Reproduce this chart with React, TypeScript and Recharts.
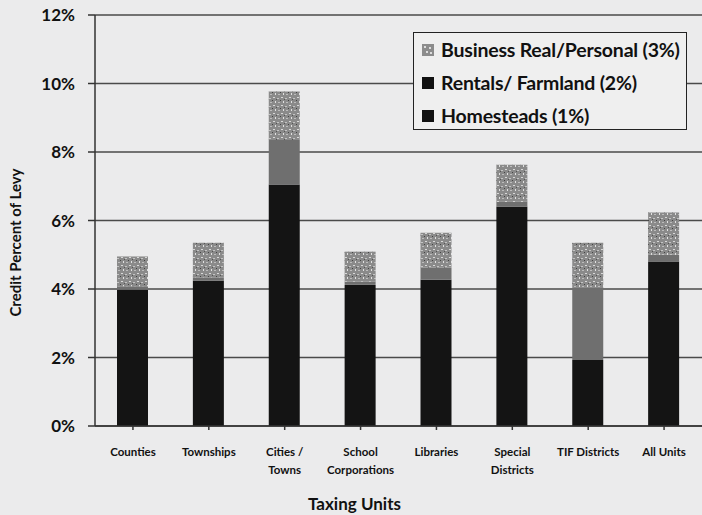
import React from 'react';
import { BarChart, Bar, XAxis, YAxis, CartesianGrid } from 'recharts';

const units = [
  'Counties',
  'Townships',
  'Cities /\nTowns',
  'School\nCorporations',
  'Libraries',
  'Special\nDistricts',
  'TIF Districts',
  'All Units',
];
const homesteads = [3.98, 4.24, 7.05, 4.12, 4.27, 6.4, 1.93, 4.8];
const rentals = [0.1, 0.1, 1.3, 0.1, 0.35, 0.15, 2.1, 0.2];
const business = [0.87, 1.01, 1.42, 0.87, 1.02, 1.08, 1.32, 1.23];
const yTicks = [0, 2, 4, 6, 8, 10, 12];

const data = units.map((unit, i) => ({
  unit,
  homesteads: homesteads[i],
  rentals: rentals[i],
  business: business[i],
}));

const FONT = 'Lato, "Open Sans", sans-serif';
const BG = '#ebebec';

const UnitTick = (props: any) => {
  const { x, y, payload } = props;
  const lines = String(payload.value).split('\n');
  return (
    <text x={x} y={y + 24} textAnchor="middle" fontFamily={FONT} fontWeight={700} fontSize={11.5} fill="#111">
      {lines.map((l, i) => (
        <tspan key={i} x={x} dy={i === 0 ? 0 : 18}>
          {l}
        </tspan>
      ))}
    </text>
  );
};

const legendItems = [
  { label: 'Business Real/Personal (3%)', speckled: true },
  { label: 'Rentals/ Farmland (2%)', speckled: false },
  { label: 'Homesteads (1%)', speckled: false },
];

// legend drawn over the plot, outside Recharts' layout so it takes no space
const LegendBox = () => (
  <div
    style={{
      position: 'absolute',
      left: 413,
      top: 32,
      width: 274,
      height: 98,
      border: '1.5px solid #222',
      background: '#efefef',
      boxSizing: 'border-box',
      padding: '0 0 0 7px',
      fontFamily: FONT,
      fontWeight: 700,
      fontSize: 19.5,
      letterSpacing: -0.2,
      color: '#111',
    }}
  >
    {legendItems.map((it) => (
      <div key={it.label} style={{ display: 'flex', alignItems: 'center', height: 33 }}>
        <svg width={14} height={14} style={{ marginRight: 6 }}>
          <rect width={12} height={12} x={1} y={1} fill={it.speckled ? '#8c8c8c' : '#111'} />
          {it.speckled && (
            <g fill="#ddd">
              <rect x={3} y={3} width={2} height={2} />
              <rect x={8} y={4} width={2} height={2} />
              <rect x={5} y={8} width={2} height={2} />
              <rect x={9} y={9} width={2} height={2} />
            </g>
          )}
        </svg>
        <span>{it.label}</span>
      </div>
    ))}
  </div>
);

export default function App() {
  return (
    <div style={{ position: 'absolute', left: 0, top: 0, width: 702, height: 515, background: BG }}>
      <BarChart
        width={702}
        height={515}
        data={data}
        margin={{ top: 15, right: 0, left: 0, bottom: 0 }}
        barSize={31}
      >
        <defs>
          <pattern id="speckle" width="8" height="8" patternUnits="userSpaceOnUse">
            <rect width="8" height="8" fill="#8a8a8a" />
            <rect x="1" y="1" width="2" height="1" fill="#d8d8d8" />
            <rect x="5" y="2" width="2" height="1" fill="#c4c4c4" />
            <rect x="3" y="5" width="1" height="2" fill="#e0e0e0" />
            <rect x="6" y="6" width="2" height="1" fill="#bcbcbc" />
            <rect x="0" y="4" width="1" height="1" fill="#444" />
            <rect x="4" y="3" width="1" height="1" fill="#555" />
          </pattern>
        </defs>
        <CartesianGrid vertical={false} stroke="#4a4a4a" strokeWidth={1.5} />
        <XAxis
          dataKey="unit"
          interval={0}
          height={89}
          stroke="#333"
          strokeWidth={1.5}
          tickSize={4}
          tick={<UnitTick />}
          label={{
            value: 'Taxing Units',
            position: 'insideBottom',
            offset: 5,
            dx: -44,
            fontFamily: FONT,
            fontWeight: 700,
            fontSize: 17,
            fill: '#111',
          }}
        />
        <YAxis
          width={95}
          domain={[0, 12]}
          ticks={yTicks}
          interval={0}
          stroke="#333"
          strokeWidth={1.5}
          tickSize={7}
          tickFormatter={(v: number) => `${v}%`}
          tick={{ fontFamily: FONT, fontWeight: 700, fontSize: 17, fill: '#111', dx: -11 }}
          label={{
            value: 'Credit Percent of Levy',
            angle: -90,
            position: 'insideLeft',
            dx: 11,
            dy: 22,
            style: { textAnchor: 'middle' },
            fontFamily: FONT,
            fontWeight: 700,
            fontSize: 15,
            fill: '#111',
          }}
        />
        <Bar dataKey="homesteads" stackId="a" fill="#141414" isAnimationActive={false} />
        <Bar dataKey="rentals" stackId="a" fill="#6f6f6f" isAnimationActive={false} />
        <Bar dataKey="business" stackId="a" fill="url(#speckle)" isAnimationActive={false} />
      </BarChart>
      <LegendBox />
    </div>
  );
}
